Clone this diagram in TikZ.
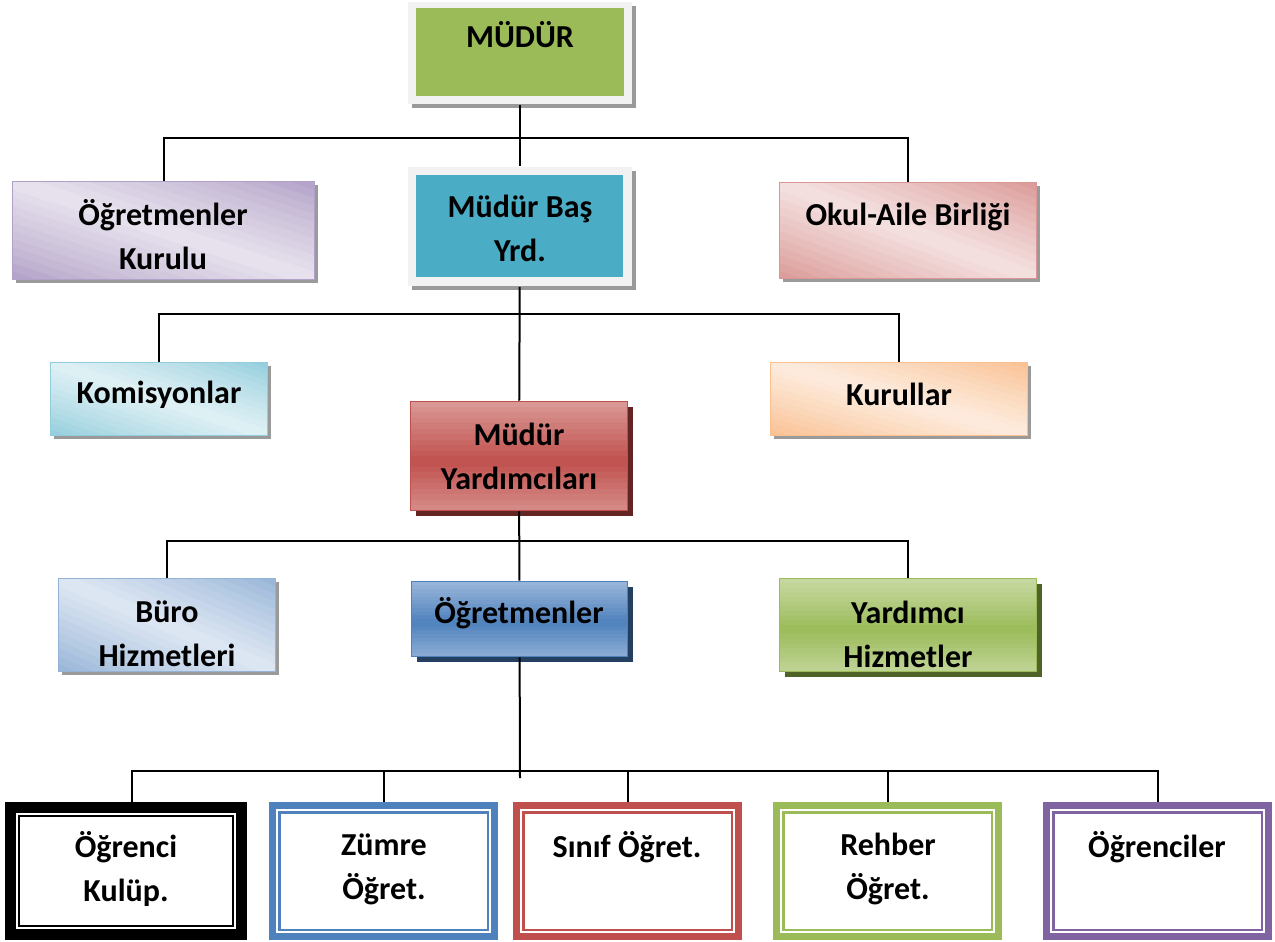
\documentclass[tikz,border=0pt]{standalone}
\usepackage{fontspec}
\setmainfont{Carlito}
\usepackage{tikz}
\usetikzlibrary{calc,positioning}

\definecolor{frameGray}{HTML}{F2F2F2}
\definecolor{dotGray}{HTML}{9A9A9A}
\definecolor{headGreen}{HTML}{9BBB59}
\definecolor{headTeal}{HTML}{4BACC6}
\definecolor{purDark}{HTML}{B1A0C7}
\definecolor{purLight}{HTML}{E8E3EE}
\definecolor{pinkDark}{HTML}{D99795}
\definecolor{pinkLight}{HTML}{F4E2E1}
\definecolor{aquaDark}{HTML}{93CDDD}
\definecolor{aquaLight}{HTML}{E0F1F5}
\definecolor{orDark}{HTML}{FAC090}
\definecolor{orLight}{HTML}{FDECDF}
\definecolor{bluDark}{HTML}{95B3D7}
\definecolor{bluLight}{HTML}{DFE8F3}
\definecolor{redMid}{HTML}{C0504D}
\definecolor{redTop}{HTML}{DA9A98}
\definecolor{redShd}{HTML}{632523}
\definecolor{bluMid}{HTML}{4F81BD}
\definecolor{bluTop}{HTML}{9AB7DA}
\definecolor{bluShd}{HTML}{243F60}
\definecolor{grnMid}{HTML}{9BBB59}
\definecolor{grnTop}{HTML}{C8DAA4}
\definecolor{grnShd}{HTML}{4F6228}
\definecolor{vioMid}{HTML}{8064A2}

\begin{document}
\begin{tikzpicture}[x=0.5pt, y=-0.5pt, thick, every text node part/.style={align=center},
  lbl/.style={font=\fontsize{16}{22}\selectfont\bfseries, inner sep=0pt},
  frame/.style={draw=none, fill=frameGray, preaction={fill=dotGray, transform canvas={shift={(2pt,-2pt)}}}},
  head/.style={draw=none, fill=#1},
  % diagonal fade: dark corners top right and bottom left
  dfade/.style 2 args={path picture={
    \foreach \i [evaluate=\i as \f using {100*(1-abs((\i+0.5)/12-1))^0.85}] in {0,...,23}{
      \fill[#2!\f!#1] let \p1=(path picture bounding box.south west), \p2=(path picture bounding box.north east) in
        ({\x1+\i/12*(\x2-\x1)},\y1) -- (\x1,{\y1+\i/12*(\y2-\y1)})
        -- (\x1,{\y1+(\i+1.1)/12*(\y2-\y1)}) -- ({\x1+(\i+1.1)/12*(\x2-\x1)},\y1) -- cycle;}}},
  % vertical fade: light top and bottom, strong middle
  vfade/.style 2 args={path picture={
    \foreach \i [evaluate=\i as \f using {100*abs((\i+0.5)/20-0.45)/0.55}] in {0,...,19}{
      \fill[#1!\f!#2] let \p1=(path picture bounding box.south west), \p2=(path picture bounding box.north east) in
        (\x1,{\y1+\i/20*(\y2-\y1)}) rectangle (\x2,{\y1+(\i+1.1)/20*(\y2-\y1)});}}},
  pale/.style 2 args={draw=#1, line width=0.8pt, preaction={fill=dotGray, transform canvas={shift={(1.5pt,-1.5pt)}}},
    dfade={#1}{#2}},
  bold/.style n args={3}{draw=#1, line width=0.8pt, preaction={fill=#3, transform canvas={shift={(2.5pt,-2.5pt)}}},
    vfade={#2}{#1}},
  unitbox/.style 2 args={draw=#1, line width=3.5pt, fill=white, minimum width=111pt, minimum height=65.5pt,
    path picture={\draw[#1, line width=1.2pt] ([shift={(#2,-#2)}]path picture bounding box.north west) rectangle ([shift={(-#2,#2)}]path picture bounding box.south east);}},
  link/.style={line width=1pt, black}]
\useasboundingbox (0,0) rectangle (1275,942);

% boxes
\draw
  node at (520,53)[frame, minimum width=112pt, minimum height=51pt](mudF){}
  node at (520,52)[head=headGreen, minimum width=104pt, minimum height=44pt](mud){}
  node at (163.5,230.5)[pale={purDark}{purLight}, minimum width=151pt, minimum height=49pt](ogk){}
  node at (520,226.5)[frame, minimum width=112pt, minimum height=59.5pt](basF){}
  node at (519.5,226)[head=headTeal, minimum width=103.5pt, minimum height=51pt](bas){}
  node at (908,230.5)[pale={pinkDark}{pinkLight}, minimum width=128.5pt, minimum height=48pt](okul){}
  node at (159,399)[pale={aquaDark}{aquaLight}, minimum width=108.5pt, minimum height=36.5pt](kom){}
  node at (899,399)[pale={orDark}{orLight}, minimum width=128.5pt, minimum height=36.5pt](kur){}
  node at (519,456)[bold={redMid}{redTop}{redShd}, minimum width=108.5pt, minimum height=54.5pt](myrd){}
  node at (167,625)[pale={bluDark}{bluLight}, minimum width=108.5pt, minimum height=46.5pt](buro){}
  node at (519.5,619)[bold={bluMid}{bluTop}{bluShd}, minimum width=108pt, minimum height=37.5pt](ogr){}
  node at (908,625)[bold={grnMid}{grnTop}{grnShd}, minimum width=128.5pt, minimum height=46.5pt](yh){}
  node at (126,871)[unitbox={black}{4.2pt}, line width=5.5pt, minimum width=115.5pt, minimum height=63.5pt](kulup){}
  node at (383.5,871)[unitbox={bluMid}{3.4pt}](zumre){}
  node at (627.5,871)[unitbox={redMid}{3.4pt}](sinif){}
  node at (887.5,871)[unitbox={grnMid}{3.4pt}](rehber){}
  node at (1157.5,871)[unitbox={vioMid}{3.4pt}](ogrc){};

% texts
\draw
  node at (520,35)[lbl](mudT){MÜDÜR}
  node at (163,235)[lbl](ogkT){Öğretmenler\\Kurulu}
  node at (520,228)[lbl](basT){Müdür Baş\\Yrd.}
  node at (908,217)[lbl](okulT){Okul-Aile Birliği}
  node at (159,395)[lbl](komT){Komisyonlar}
  node at (899,394)[lbl](kurT){Kurullar}
  node at (519,456)[lbl](myrdT){Müdür\\Yardımcıları}
  node at (167,634)[lbl](buroT){Büro\\Hizmetleri}
  node at (519,613)[lbl](ogrT){Öğretmenler}
  node at (908,634)[lbl](yhT){Yardımcı\\Hizmetler}
  node at (126,869)[lbl](kulupT){Öğrenci\\Kulüp.}
  node at (384,869)[lbl](zumreT){Zümre\\Öğret.}
  node at (627,847)[lbl](sinifT){Sınıf Öğret.}
  node at (888,869)[lbl](rehberT){Rehber\\Öğret.}
  node at (1157,847)[lbl](ogrcT){Öğrenciler};

% connectors
\coordinate (b1) at (520,138);
\coordinate (b2) at (520,314);
\coordinate (b3) at (520,541);
\coordinate (b4) at (520,771);
\coordinate (b4end) at (520,778);
\draw[link] (mudF) -- (basF);
\draw[link] (ogk.north) |- (b1) -| (okul.north);
\draw[link] (basF) -- (myrd);
\draw[link] (kom.north) |- (b2) -| (kur.north);
\draw[link] (myrd) -- (ogr);
\draw[link] (buro.north) |- (b3) -| (yh.north);
\draw[link] (ogr) -- (b4end);
\draw[link] ([xshift=3pt]kulup.north) |- (b4) -| (ogrc.north);
\draw[link] (zumre.north) -- (zumre.north |- b4);
\draw[link] (sinif.north) -- (sinif.north |- b4);
\draw[link] (rehber.north) -- (rehber.north |- b4);
\end{tikzpicture}
\end{document}
